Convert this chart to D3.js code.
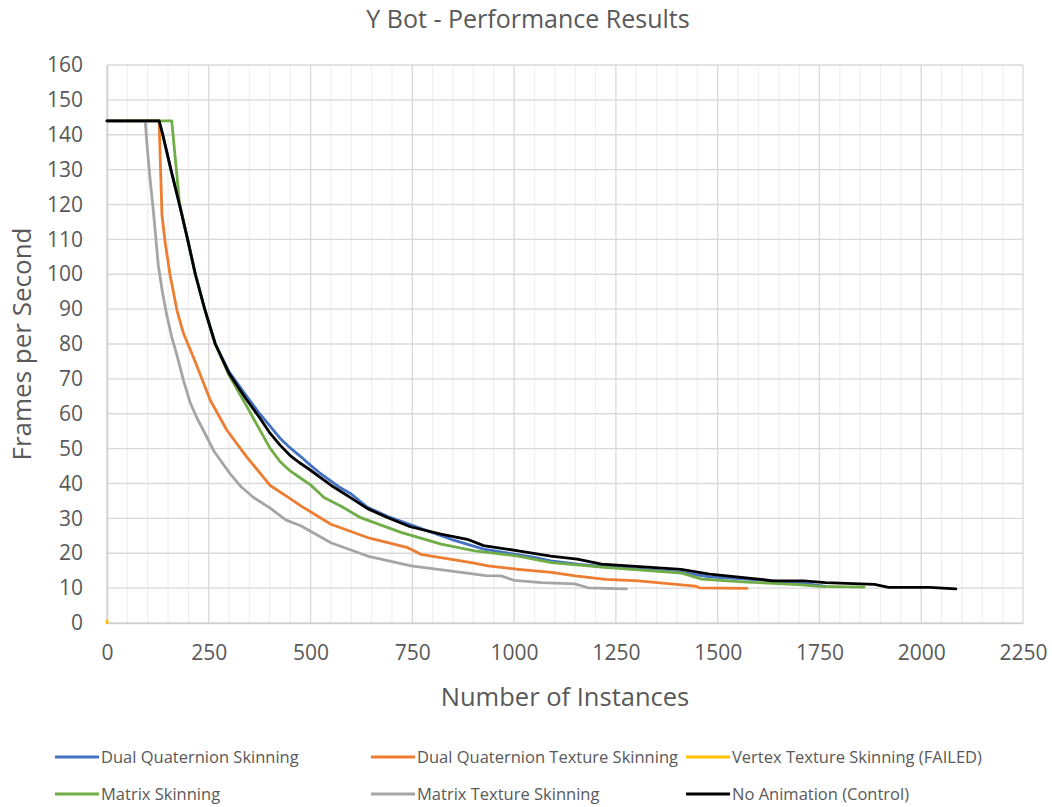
<!DOCTYPE html>
<html>
<head>
<meta charset="utf-8">
<script src="https://cdn.jsdelivr.net/npm/d3@7"></script>
<style>
  body { margin: 0; background: #fff; }
  text { font-family: "Open Sans", sans-serif; fill: #595959; }
</style>
</head>
<body>
<svg id="chart" width="1052" height="807"></svg>
<script>
const width = 1052
const height = 807
const margin = { top: 65, right: 30, bottom: 185, left: 107 }

const xTicks = [0, 250, 500, 750, 1000, 1250, 1500, 1750, 2000, 2250]
const yTicks = d3.range(0, 161, 10)

// [instances, fps]
const dualQuat = [[0,144],[128,144],[137,140],[157,130],[178,120],[198,110],[217,100],[240,90],[266,80],[300,72],[340,65.5],[375,60],[400,56.5],[425,53],[450,50.2],[475,47.8],[500,45.2],[525,42.8],[570,39],[600,37],[640,33.2],[690,30.5],[750,28],[845,24],[925,21.2],[1050,18.8],[1090,17.8],[1160,16.8],[1215,16.2],[1300,15.5],[1410,14.5],[1480,13.2],[1600,12.4],[1700,11.5],[1765,10.5]]
const dualQuatTex = [[0,144],[128,144],[135,117],[143,109],[155,99.7],[172,89.6],[188,83],[213,76],[254,63.8],[295,55.2],[344,47.5],[385,41.7],[400,39.5],[451,35.6],[476,33.6],[550,28.3],[640,24.5],[739,21.6],[771,19.7],[895,17.3],[936,16.4],[1010,15.4],[1092,14.5],[1150,13.5],[1225,12.5],[1305,12.1],[1445,10.6],[1455,10.1],[1572,9.9]]
const vertexTex = [[0,0],[0,0.6]]
const matrix = [[0,144],[159,144],[178,120.5],[198,110],[217,100],[240,90],[266,80],[300,71],[344,62],[377,55],[400,50.2],[425,46.3],[450,43.6],[476,41.5],[500,39.6],[533,36],[575,33.5],[623,30.2],[722,26],[821,22.6],[903,20.7],[1010,19.2],[1092,17.3],[1215,16],[1412,14.3],[1461,12.6],[1560,11.8],[1700,11],[1750,10.5],[1860,10.3]]
const matrixTex = [[0,144],[94,144],[98,137.5],[106,127],[114,118],[126,102.6],[136,95],[147,88.2],[159,82],[172,76.7],[188,69.5],[204,63.3],[220,59],[237,55.2],[262,49.4],[303,42.7],[330,39],[360,36],[400,33],[440,29.5],[476,27.9],[550,23],[640,19.2],[747,16.4],[903,14],[930,13.6],[968,13.5],[1001,12.2],[1067,11.6],[1149,11.2],[1182,10.1],[1276,9.8]]
const control = [[0,144],[128,144],[137,140],[157,130],[178,120],[198,110],[217,100],[240,90],[266,80],[300,71.5],[340,64.5],[377,58.5],[400,54.5],[425,51],[450,48],[475,45.8],[500,43.8],[550,39.5],[600,35.8],[640,32.8],[690,30.2],[745,27.6],[820,25.5],[885,24],[925,22.2],[1010,20.7],[1090,19.2],[1155,18.3],[1215,16.9],[1280,16.4],[1410,15.4],[1480,14],[1600,12.6],[1635,12.1],[1710,12.1],[1765,11.6],[1885,11.1],[1920,10.2],[2020,10.2],[2085,9.8]]

const seriesNames = ['Dual Quaternion Skinning', 'Dual Quaternion Texture Skinning', 'Vertex Texture Skinning (FAILED)', 'Matrix Skinning', 'Matrix Texture Skinning', 'No Animation (Control)']
const seriesData = [dualQuat, dualQuatTex, vertexTex, matrix, matrixTex, control]
const colors = ['#4472C4', '#ED7D31', '#FFC000', '#70AD47', '#A5A5A5', '#000000']

const svg = d3.select('#chart')

const x = d3.scaleLinear().domain([0, 2250]).range([margin.left, width - margin.right + 1])
const y = d3.scaleLinear().domain([0, 160]).range([height - margin.bottom + 1, margin.top])

// gridlines
svg.append('g')
  .selectAll('line')
  .data(d3.range(0, 2251, 50).filter(v => v % 250 !== 0))
  .join('line')
  .attr('x1', d => x(d)).attr('x2', d => x(d))
  .attr('y1', y(0)).attr('y2', y(160))
  .attr('stroke', '#f0f0f0').attr('stroke-width', 1.3)

svg.append('g')
  .selectAll('line')
  .data(yTicks)
  .join('line')
  .attr('x1', x(0)).attr('x2', x(2250))
  .attr('y1', d => y(d)).attr('y2', d => y(d))
  .attr('stroke', '#d9d9d9').attr('stroke-width', 1.3)

svg.append('g')
  .selectAll('line')
  .data(xTicks)
  .join('line')
  .attr('x1', d => x(d)).attr('x2', d => x(d))
  .attr('y1', y(0)).attr('y2', y(160))
  .attr('stroke', '#d9d9d9').attr('stroke-width', 1.3)

// axes
const xAxis = svg.append('g')
  .attr('transform', `translate(0,${y(0)})`)
  .call(d3.axisBottom(x).tickValues(xTicks).tickFormat(d3.format('d')).tickSize(0).tickPadding(22))
xAxis.select('.domain').attr('stroke', '#d0d0d0').attr('stroke-width', 1.5)
xAxis.selectAll('text').attr('font-size', 21).attr('fill', '#595959').attr('font-family', '"Open Sans", sans-serif')

const yAxis = svg.append('g')
  .attr('transform', `translate(${x(0)},0)`)
  .call(d3.axisLeft(y).tickValues(yTicks).tickFormat(d3.format('d')).tickSize(0).tickPadding(24))
yAxis.select('.domain').attr('stroke', '#d0d0d0').attr('stroke-width', 1.5)
yAxis.selectAll('text').attr('font-size', 21).attr('fill', '#595959').attr('font-family', '"Open Sans", sans-serif')

// series
const line = d3.line().x(d => x(d[0])).y(d => y(d[1]))
svg.append('g')
  .selectAll('path')
  .data(seriesData)
  .join('path')
  .attr('d', line)
  .attr('fill', 'none')
  .attr('stroke', (d, i) => colors[i])
  .attr('stroke-width', 2.8)
  .attr('stroke-linejoin', 'round')
  .attr('stroke-linecap', 'round')

// titles
svg.append('text')
  .attr('x', 528).attr('y', 28)
  .attr('text-anchor', 'middle')
  .attr('font-size', 25)
  .text('Y Bot - Performance Results')

svg.append('text')
  .attr('x', (x(0) + x(2250)) / 2).attr('y', 706)
  .attr('text-anchor', 'middle')
  .attr('font-size', 25.5)
  .text('Number of Instances')

svg.append('text')
  .attr('transform', `translate(31,${(y(0) + y(160)) / 2}) rotate(-90)`)
  .attr('text-anchor', 'middle')
  .attr('font-size', 26)
  .text('Frames per Second')

// legend
const legendPos = [[55, 757], [371, 757], [686, 757], [55, 794], [371, 794], [686, 794]]
const legend = svg.append('g')
  .selectAll('g')
  .data(seriesNames)
  .join('g')
  .attr('transform', (d, i) => `translate(${legendPos[i][0]},${legendPos[i][1]})`)
legend.append('line')
  .attr('x1', 0).attr('x2', 44)
  .attr('stroke', (d, i) => colors[i])
  .attr('stroke-width', 2.8)
legend.append('text')
  .attr('x', 46).attr('dy', '0.35em')
  .attr('font-size', 16.5)
  .text(d => d)
</script>
</body>
</html>
